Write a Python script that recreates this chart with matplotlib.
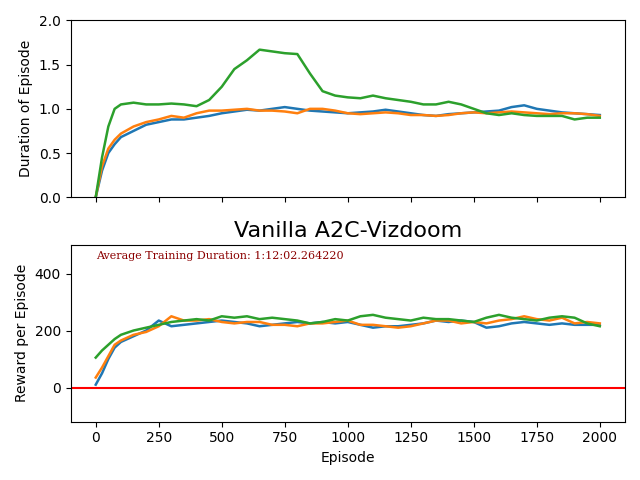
import numpy as np
import matplotlib

matplotlib.use("Agg")
import matplotlib.pyplot as plt

episodes = [0, 25, 50, 75, 100] + list(range(150, 2001, 50))  # 43 points

dur_blue = [0.0, 0.30, 0.50, 0.60, 0.68,
            0.75, 0.82, 0.85, 0.88, 0.88, 0.90, 0.92, 0.95, 0.97, 0.99,
            0.98, 1.00, 1.02, 1.00, 0.98, 0.97, 0.96, 0.95, 0.96, 0.97,
            0.99, 0.97, 0.95, 0.93, 0.92, 0.94, 0.95, 0.96, 0.97, 0.98,
            1.02, 1.04, 1.00, 0.98, 0.96, 0.95, 0.94, 0.93]
dur_orange = [0.0, 0.35, 0.55, 0.65, 0.72,
              0.80, 0.85, 0.88, 0.92, 0.90, 0.95, 0.98, 0.98, 0.99, 1.00,
              0.98, 0.98, 0.97, 0.95, 1.00, 1.00, 0.98, 0.95, 0.94, 0.95,
              0.96, 0.95, 0.93, 0.93, 0.92, 0.93, 0.95, 0.96, 0.95, 0.96,
              0.97, 0.96, 0.95, 0.94, 0.95, 0.95, 0.94, 0.92]
dur_green = [0.0, 0.45, 0.80, 1.00, 1.05,
             1.07, 1.05, 1.05, 1.06, 1.05, 1.03, 1.10, 1.25, 1.45, 1.55,
             1.67, 1.65, 1.63, 1.62, 1.40, 1.20, 1.15, 1.13, 1.12, 1.15,
             1.12, 1.10, 1.08, 1.05, 1.05, 1.08, 1.05, 1.00, 0.95, 0.93,
             0.95, 0.93, 0.92, 0.92, 0.92, 0.88, 0.90, 0.90]

rew_blue = [10, 50, 100, 140, 160,
            180, 200, 235, 215, 220, 225, 230, 235, 230, 225,
            215, 220, 225, 230, 225, 230, 225, 230, 220, 210,
            215, 215, 220, 225, 235, 230, 235, 230, 210, 215,
            225, 230, 225, 220, 225, 220, 220, 220]
rew_orange = [35, 70, 110, 150, 165,
              185, 195, 215, 250, 235, 235, 240, 230, 225, 230,
              230, 220, 220, 215, 225, 225, 230, 235, 220, 220,
              215, 210, 215, 225, 235, 235, 225, 230, 225, 235,
              240, 250, 240, 235, 245, 225, 230, 225]
rew_green = [105, 130, 150, 170, 185,
             200, 210, 220, 230, 235, 240, 235, 250, 245, 250,
             240, 245, 240, 235, 225, 230, 240, 235, 250, 255,
             245, 240, 235, 245, 240, 240, 235, 230, 245, 255,
             245, 240, 235, 245, 250, 245, 225, 215]

fig, (ax1, ax2) = plt.subplots(2, 1, sharex=True, figsize=(6.4, 4.8))
for s in (dur_blue, dur_orange, dur_green):
    ax1.plot(episodes, s, lw=1.8)
ax1.set_ylim(0, 2)
ax1.set_ylabel("Duration of Episode")
ax1.tick_params(labelbottom=False)

for s in (rew_blue, rew_orange, rew_green):
    ax2.plot(episodes, s, lw=1.8)
ax2.axhline(0, color="red")
ax2.set_ylim(-120, 500)
ax2.set_xlim(-100, 2100)
ax2.set_xticks(range(0, 2001, 250))
ax2.set_ylabel("Reward per Episode")
ax2.set_xlabel("Episode")
ax2.set_title("Vanilla A2C-Vizdoom", fontsize=16)
ax2.text(0, 450, "Average Training Duration: 1:12:02.264220",
         color="darkred", family="serif", fontsize=8)

fig.tight_layout()
fig.savefig("out.png", dpi=100)
